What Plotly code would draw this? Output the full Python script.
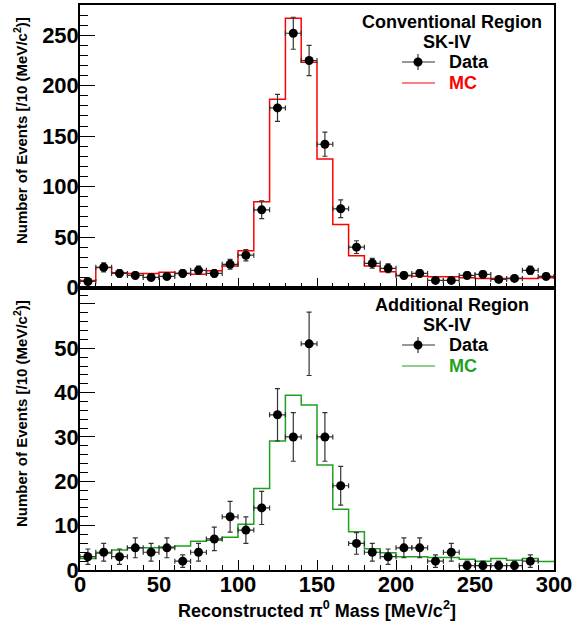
import numpy as np
import plotly.graph_objects as go

# ---------------- data ----------------
bin_edges = [0, 10, 20, 30, 40, 50, 60, 70, 80, 90, 100, 110, 120, 130, 140, 150,
             160, 170, 180, 190, 200, 210, 220, 230, 240, 250, 260, 270, 280, 290, 300]
bin_centers = [5, 15, 25, 35, 45, 55, 65, 75, 85, 95, 105, 115, 125, 135, 145,
               155, 165, 175, 185, 195, 205, 215, 225, 235, 245, 255, 265, 275, 285, 295]

conv_data = [6, 20, 14, 12, 10, 11, 14, 17, 14, 23, 32, 77, 178, 252, 225,
             142, 78, 40, 24, 19, 12, 14, 7, 7, 12, 13, 8, 9, 17, 11]
conv_mc = [7.0, 19.8, 14.5, 13.9, 13.9, 15.2, 13.9, 13.2, 16.5, 21.2, 36.4, 85.0, 186.5, 266.9, 223.2,
           127.3, 62.5, 31.4, 21.2, 15.5, 11.6, 11.2, 10.6, 10.6, 9.6, 8.9, 8.9, 8.9, 8.9, 9.6]

add_data = [3, 4, 3, 5, 4, 5, 2, 4, 7, 12, 9, 14, 35, 30, 51,
            30, 19, 6, 4, 3, 5, 5, 2, 4, 1, 1, 1, 1, 2, None]
add_mc = [2.6, 3.8, 4.5, 5.0, 5.0, 5.2, 5.4, 6.5, 6.7, 7.4, 10.3, 18.4, 29.1, 39.4, 37.2,
          23.7, 13.7, 8.6, 4.8, 3.9, 3.0, 3.0, 2.8, 2.8, 2.4, 2.0, 2.6, 2.2, 2.6, 1.9]

top_yticks = [0, 50, 100, 150, 200, 250]
bot_yticks = [0, 10, 20, 30, 40, 50, 60]
bot_yticktext = ["0", "10", "20", "30", "40", "50", " "]
x_ticks = [0, 50, 100, 150, 200, 250, 300]

RED = "#ff0000"
GREEN = "#1fa01f"
FONT = "Liberation Sans, Arial, Helvetica, sans-serif"

W, H = 572, 623
ML, MR, MT, MB = 80, 18, 5, 53
PW = W - ML - MR
PH = H - MT - MB


def px(x):
    return (x - ML) / PW


def py(y):
    return (H - MB - y) / PH


fig = go.Figure()


def add_panel(data, mc, color, xa, ya):
    xs = [c for c, v in zip(bin_centers, data) if v is not None]
    ys = [v for v in data if v is not None]
    fig.add_trace(go.Scatter(
        x=bin_edges, y=list(mc) + [mc[-1]], mode="lines", line_shape="hv",
        line=dict(color=color, width=1.5), xaxis=xa, yaxis=ya, showlegend=False,
        hoverinfo="skip"))
    fig.add_trace(go.Scatter(
        x=xs, y=ys, mode="markers",
        marker=dict(color="black", size=9),
        error_x=dict(type="constant", value=5, width=2.5, thickness=1.2, color="#333"),
        error_y=dict(type="data", array=np.sqrt(ys), width=2.5, thickness=1.2, color="#333"),
        xaxis=xa, yaxis=ya, showlegend=False))


add_panel(conv_data, conv_mc, RED, "x", "y")
add_panel(add_data, add_mc, GREEN, "x2", "y2")

tickfont = dict(family=FONT, size=22, color="black", weight="bold")
common_x = dict(range=[0, 300], showline=True, linecolor="black", linewidth=1.5, mirror=True,
                showgrid=False, zeroline=False, ticks="inside", ticklen=10, tickwidth=1,
                tickcolor="black", tickvals=x_ticks, automargin=False,
                ticklabeloverflow="allow",
                minor=dict(ticks="inside", ticklen=5, dtick=10, tickcolor="black", tickwidth=1))
common_y = dict(showline=True, linecolor="black", linewidth=1.5, mirror=True, showgrid=False,
                zeroline=False, ticks="inside", ticklen=15, tickwidth=1, tickcolor="black",
                tickfont=tickfont, automargin=False, ticklabelstandoff=-5,
                ticklabeloverflow="allow")

fig.update_layout(
    width=W, height=H,
    margin=dict(l=ML, r=MR, t=MT, b=MB, autoexpand=False),
    paper_bgcolor="white", plot_bgcolor="white",
    showlegend=False,
    xaxis=dict(common_x, domain=[0, 1], anchor="y", showticklabels=False, matches="x2"),
    yaxis=dict(common_y, domain=[0.5, 1], anchor="x", range=[0, 280], tickvals=top_yticks,
               minor=dict(ticks="inside", ticklen=8, dtick=10, tickcolor="black", tickwidth=1)),
    xaxis2=dict(common_x, domain=[0, 1], anchor="y2", tickfont=tickfont, ticklabelstandoff=-6),
    yaxis2=dict(common_y, domain=[0, 0.5], anchor="x2", range=[0, 63.7], tickvals=bot_yticks,
                ticktext=bot_yticktext,
                minor=dict(ticks="inside", ticklen=8, dtick=2, tickcolor="black", tickwidth=1)),
)

ann = []
shapes = []


def text(x, y, s, size, color="black", xanchor="center", angle=0):
    ann.append(dict(x=px(x), y=py(y), xref="paper", yref="paper", text=s, showarrow=False,
                    xanchor=xanchor, yanchor="middle", textangle=angle,
                    font=dict(family=FONT, size=size, color=color, weight="bold")))


def legend_block(y0, title, mc_color):
    text(452, y0, title, 18)
    text(447, y0 + 20, "SK-IV", 18)
    yd = y0 + 40
    ym = y0 + 61
    text(447, yd, "Data", 18, xanchor="left")
    text(447, ym, "MC", 18, color=mc_color, xanchor="left")
    shapes.append(dict(type="line", xref="paper", yref="paper", x0=px(402), x1=px(435),
                       y0=py(yd), y1=py(yd), line=dict(color="#333", width=1.2)))
    shapes.append(dict(type="line", xref="paper", yref="paper", x0=px(418), x1=px(418),
                       y0=py(yd - 8), y1=py(yd + 8), line=dict(color="#333", width=1.2)))
    shapes.append(dict(type="circle", xref="paper", yref="paper", xsizemode="pixel",
                       ysizemode="pixel", xanchor=px(418), yanchor=py(yd),
                       x0=-4.5, x1=4.5, y0=-4.5, y1=4.5,
                       fillcolor="black", line=dict(color="black", width=0)))
    shapes.append(dict(type="line", xref="paper", yref="paper", x0=px(402), x1=px(435),
                       y0=py(ym), y1=py(ym), line=dict(color=mc_color, width=1.2)))


legend_block(22, "Conventional Region", RED)
legend_block(305, "Additional Region", GREEN)

ytitle = "Number of Events [/10 (MeV/c<sup>2</sup>)]"
text(20, 131, ytitle, 15, angle=-90)
text(20, 414, ytitle, 15, angle=-90)
text(317, 609, "Reconstructed \u03c0<sup>0</sup> Mass [MeV/c<sup>2</sup>]", 18)

fig.update_layout(annotations=ann, shapes=shapes)

fig.write_html("out.html", config={"displayModeBar": False},
               post_script="document.body.style.margin='0';")
